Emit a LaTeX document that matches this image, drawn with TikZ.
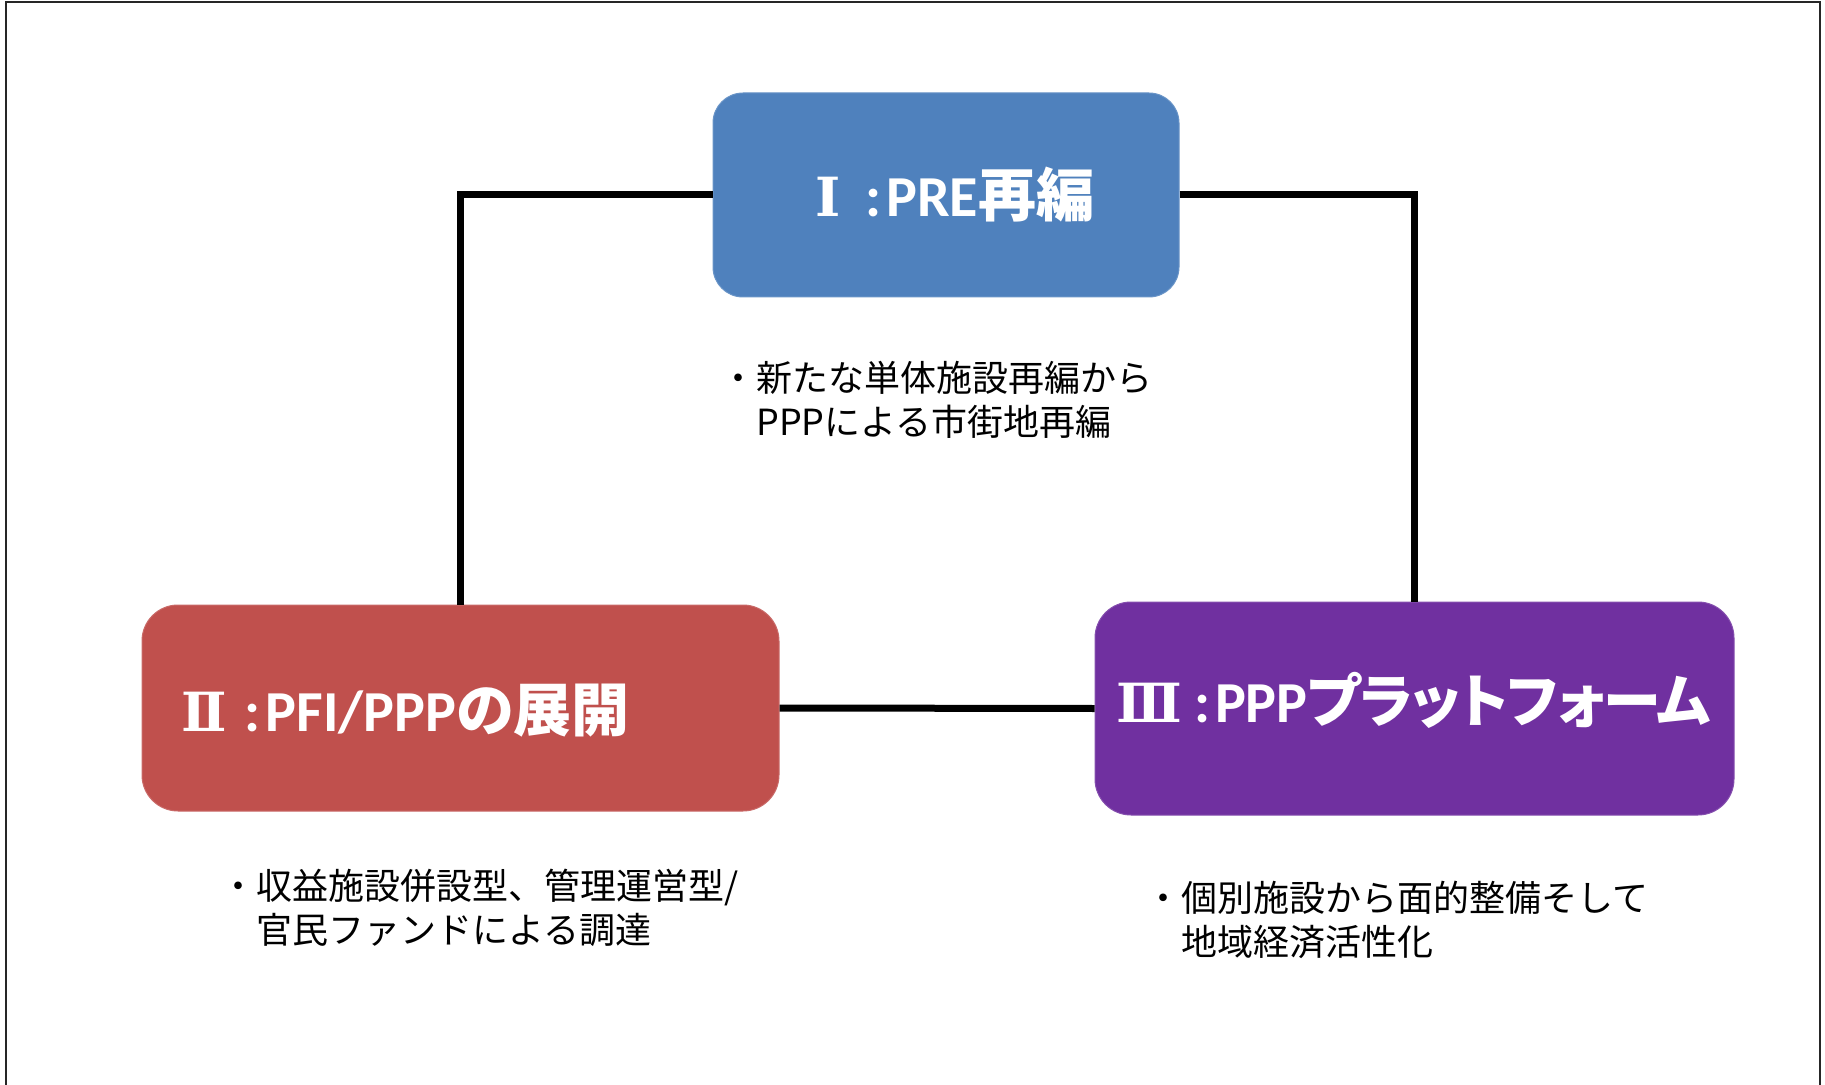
\documentclass[tikz,border=0pt]{standalone}
\usepackage{fontspec}
\setmainfont{Noto Sans CJK JP}
\newfontfamily\tnum{DejaVu Serif}
\newfontfamily\tcjk[RawFeature={+palt}]{Noto Sans CJK JP}
\newfontfamily\carl{Carlito}
\definecolor{boxblue}{HTML}{4F81BD}
\definecolor{boxred}{HTML}{C0504D}
\definecolor{boxpurple}{HTML}{7030A0}
\begin{document}
\begin{tikzpicture}[x=0.5pt,y=-0.5pt,
  box/.style={rectangle, inner sep=0pt, line width=0.5pt, fill=#1, draw=#1!85!white},
  title/.style={text=white, inner sep=0pt, anchor=base, font=\fontsize{29pt}{34pt}\selectfont\bfseries},
  desc/.style={inner sep=0pt, anchor=base west, align=left, text=black, font=\fontsize{18pt}{22pt}\selectfont},
  link/.style={line width=3.5pt, draw=black},
  frame/.style={line width=1pt, draw=black!85}]
\useasboundingbox (0,0) rectangle (1825,1085);
\draw[frame] (6,1090) -- (6,2) -- (1820,2) -- (1820,1090);
% boxes
\node[box=boxblue, minimum width=233pt, minimum height=102pt, rounded corners=15pt] (b1) at (946,195) {};
\node[box=boxred, minimum width=318.5pt, minimum height=103pt, rounded corners=18pt] (b2) at (460.5,708) {};
\node[box=boxpurple, minimum width=319.5pt, minimum height=106.5pt, rounded corners=18pt] (b3) at (1414.5,708.5) {};
% connectors
\draw[link] (b1.west) -| (b2.north);
\draw[link] (b1.east) -| (b3.north);
\draw[link] (b2.east) -- (b3.west);
% titles
\node[title] (t1) at (955,217) {{\tnum\fontsize{27pt}{32pt}\selectfont Ⅰ}\hspace{12pt}{\carl :}\hspace{2.5pt}{\carl PRE}{\tcjk 再編}};
\node[title] (t2) at (405.5,731) {{\tnum\fontsize{27pt}{32pt}\selectfont Ⅱ}\hspace{9pt}{\carl :}\hspace{2.5pt}{\carl PFI/PPP}{\tcjk の展開}};
\node[title] (t3) at (1413.5,722) {{\tnum\fontsize{27pt}{32pt}\selectfont Ⅲ}\hspace{6pt}{\carl :}\hspace{2.5pt}{\carl PPP}{\tcjk\addfontfeature{LetterSpace=-2} プラットフォーム}};
% descriptions
\node[desc] (d1) at (756,436) {\llap{・}新たな単体施設再編から\\PPPによる市街地再編};
\node[desc] (d2) at (256,943) {\llap{・}収益施設併設型、管理運営型/\\官民ファンドによる調達};
\node[desc] (d3) at (1181,955) {\llap{・}個別施設から面的整備そして\\地域経済活性化};
\end{tikzpicture}
\end{document}
